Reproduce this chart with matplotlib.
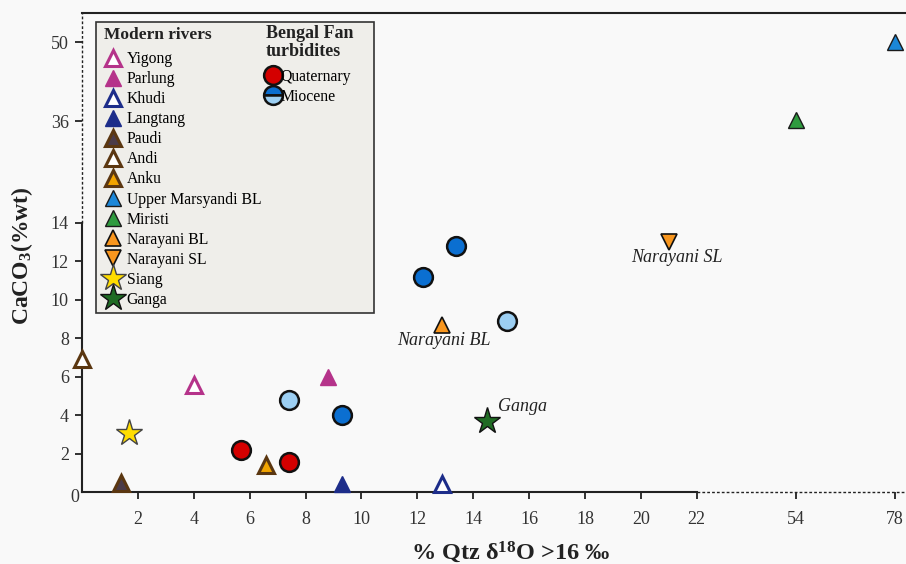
import numpy as np
import matplotlib.pyplot as plt
from matplotlib.patches import Rectangle

plt.rcParams['font.family'] = 'Liberation Serif'
plt.rcParams['mathtext.fontset'] = 'custom'
plt.rcParams['mathtext.rm'] = 'Liberation Serif'
plt.rcParams['mathtext.bf'] = 'Liberation Serif:bold'
plt.rcParams['mathtext.it'] = 'Liberation Serif:italic'

# modern rivers
rivers = ['Yigong', 'Parlung', 'Khudi', 'Langtang', 'Paudi', 'Andi', 'Anku',
          'Upper Marsyandi BL', 'Miristi', 'Narayani BL', 'Narayani SL', 'Siang', 'Ganga']
river_qtz = [4.0, 8.8, 12.9, 9.3, 1.4, 0.0, 6.6, 78, 54, 12.9, 21.0, 1.7, 14.5]
river_caco3 = [5.6, 6.0, 0.45, 0.45, 0.5, 6.9, 1.4, 50, 36.2, 8.7, 13.0, 3.1, 3.7]

# Bengal Fan turbidites
quat_qtz = [5.7, 7.4]
quat_caco3 = [2.2, 1.6]
mio_dark_qtz = [9.3, 12.2, 13.4]
mio_dark_caco3 = [4.0, 11.2, 12.8]
mio_light_qtz = [7.4, 15.2]
mio_light_caco3 = [4.8, 8.9]

xticks = [2, 4, 6, 8, 10, 12, 14, 16, 18, 20, 22, 54, 78]
yticks = [2, 4, 6, 8, 10, 12, 14, 36, 50]

# marker, face, edge, size, edge width
mag = '#b5338a'
navy = '#1d2d8a'
brown = '#5b3711'
styles = {
    'Yigong': ('^', 'white', mag, 12, 2.2),
    'Parlung': ('^', mag, mag, 12, 1.0),
    'Khudi': ('^', 'white', navy, 12, 2.2),
    'Langtang': ('^', navy, navy, 12, 1.0),
    'Paudi': ('^', '#4b3b48', brown, 12, 2.2),
    'Andi': ('^', 'white', brown, 12, 2.2),
    'Anku': ('^', '#f2a400', brown, 12, 2.2),
    'Upper Marsyandi BL': ('^', '#1b87d8', '#1a1a1a', 12, 1.0),
    'Miristi': ('^', '#2f9b3f', '#1a1a1a', 12, 1.0),
    'Narayani BL': ('^', '#f8961e', '#111111', 12, 1.2),
    'Narayani SL': ('v', '#f8961e', '#111111', 12, 1.2),
    'Siang': ('*', '#ffdd00', '#444444', 20, 1.0),
    'Ganga': ('*', '#1f6b23', '#111111', 20, 1.0),
}

# broken axes: piecewise linear mapping
x_data = [-10, 0, 22, 54, 78, 100]
x_disp = [-10, 0, 22, 25.56, 29.09, 32.3]
y_data = [-10, 0, 14, 36, 50, 70]
y_disp = [-10, 0, 14, 19.25, 23.35, 29.2]


def xf(v):
    return np.interp(v, x_data, x_disp)


def xi(v):
    return np.interp(v, x_disp, x_data)


def yf(v):
    return np.interp(v, y_data, y_disp)


def yi(v):
    return np.interp(v, y_disp, y_data)


fig = plt.figure(figsize=(9.06, 5.64), dpi=100, facecolor='#f9f9f9')
ax = fig.add_axes([0.0905, 0.1268, 0.908, 0.850])
ax.set_facecolor('#f9f9f9')
ax.set_xscale('function', functions=(xf, xi))
ax.set_yscale('function', functions=(yf, yi))
ax.set_xlim(0, 80.4)
ax.set_ylim(0, 55.2)

river_handles = []
for name, qx, cy in zip(rivers, river_qtz, river_caco3):
    m, fc, ec, ms, mew = styles[name]
    h, = ax.plot([qx], [cy], ls='none', marker=m, ms=ms, mfc=fc, mec=ec, mew=mew,
                 label=name, clip_on=False, zorder=4)
    river_handles.append(h)

hq, = ax.plot(quat_qtz, quat_caco3, ls='none', marker='o', ms=13.5, mfc='#d40000',
              mec='#111111', mew=1.8, label='Quaternary', zorder=4)
ax.plot(mio_dark_qtz, mio_dark_caco3, ls='none', marker='o', ms=13.5, mfc='#0b6fd1',
        mec='#111111', mew=1.8, zorder=4)
ax.plot(mio_light_qtz, mio_light_caco3, ls='none', marker='o', ms=13.5, mfc='#9ccff3',
        mec='#111111', mew=1.8, zorder=4)
hm, = ax.plot([], [], ls='none', marker='o', ms=13.5, mfc='#0b6fd1', mfcalt='#9ccff3',
              fillstyle='top', mec='#111111', mew=1.8, label='Miocene')

# annotations
ax.text(21.3, 12.2, 'Narayani SL', style='italic', fontsize=13, ha='center', va='center', color='#222222')
ax.text(12.96, 7.9, 'Narayani BL', style='italic', fontsize=13, ha='center', va='center', color='#222222')
ax.text(14.9, 4.45, 'Ganga', style='italic', fontsize=13, ha='left', va='center', color='#222222')

# spines / broken axes
ax.spines['right'].set_visible(False)
ax.spines['left'].set_bounds(0, 14)
ax.spines['bottom'].set_bounds(0, 22)
for s in ['left', 'bottom', 'top']:
    ax.spines[s].set_linewidth(1.5)
    ax.spines[s].set_color('#222222')
ax.plot([0, 0], [14, 55.2], color='#222222', lw=1.0, ls=(0, (2, 1.5)), clip_on=False, zorder=1)
ax.plot([22, 80.4], [0, 0], color='#222222', lw=1.0, ls=(0, (2, 1.5)), clip_on=False, zorder=1)

ax.set_xticks(xticks)
ax.set_xticklabels([str(t) for t in xticks])
ax.set_yticks(yticks)
ax.set_yticklabels([str(t) for t in yticks])
ax.minorticks_off()
ax.tick_params(axis='both', length=5, width=1.3, color='#222222', labelsize=13, labelcolor='#333333')
ax.tick_params(axis='x', pad=8)
ax.tick_params(axis='y', pad=4.5)
ax.text(-0.009, -0.01, '0', transform=ax.transAxes, ha='center', va='center', fontsize=13, color='#333333')

fig.text(0.024, 0.546, r'CaCO$_\mathbf{3}$(%wt)', rotation=90, fontsize=17, fontweight='bold',
         color='#222222', ha='center', va='center')
fig.text(0.564, 0.021, r'% Qtz δ$^{\mathbf{18}}$O >16 ‰', fontsize=17.5, fontweight='bold',
         color='#222222', ha='center', va='center')

# legend box
ax.add_patch(Rectangle((0.017, 0.374), 0.338, 0.607, transform=ax.transAxes,
                       facecolor='#efeeea', edgecolor='#333333', lw=1.2, zorder=5))
ax.text(0.0267, 0.955, 'Modern rivers', transform=ax.transAxes, fontsize=12.5, fontweight='bold',
        ha='left', va='center', color='#222222', zorder=6)
ax.text(0.2235, 0.975, 'Bengal Fan\nturbidites', transform=ax.transAxes, fontsize=13, fontweight='bold',
        ha='left', va='top', color='#222222', linespacing=1.05, zorder=6)
leg1 = ax.legend(handles=river_handles, loc='upper left', bbox_to_anchor=(0.020, 0.934),
                 frameon=False, fontsize=11.3, labelspacing=0.26, handlelength=1.0,
                 handletextpad=0.4, borderaxespad=0)
leg1.set_zorder(6)
ax.add_artist(leg1)
leg2 = ax.legend(handles=[hq, hm], loc='upper left', bbox_to_anchor=(0.2165, 0.897),
                 frameon=False, fontsize=11.3, labelspacing=0.26, handlelength=0.8,
                 handletextpad=0.1, borderaxespad=0)
leg2.set_zorder(6)

fig.savefig('out.png', dpi=100, facecolor=fig.get_facecolor())
